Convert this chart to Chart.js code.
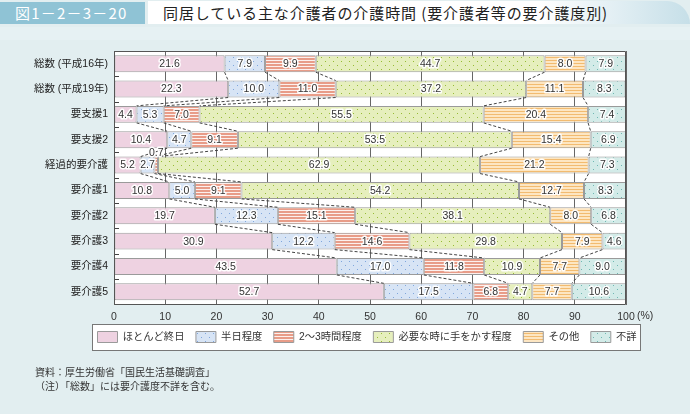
<!DOCTYPE html>
<html><head><meta charset="utf-8">
<script src="https://cdn.jsdelivr.net/npm/chart.js@4.4.1/dist/chart.umd.min.js"></script>
<style>
html,body{margin:0;padding:0;}
body{width:690px;height:414px;background:#e2eef0;position:relative;overflow:hidden;font-family:"Noto Sans CJK JP",sans-serif;}
#hdrBox{position:absolute;left:0;top:2px;width:145px;height:22px;background:#8fc3d5;color:#fff;font-size:15px;line-height:22px;padding-left:15px;box-sizing:border-box;letter-spacing:1.2px;}
#hdrTitle{position:absolute;left:148px;top:1px;width:542px;height:23px;background:linear-gradient(to right,#ffffff 0%,#ffffff 72%,#c6dfe8 100%);border-top-right-radius:24px;font-size:15px;line-height:23px;padding-left:15px;box-sizing:border-box;color:#222;letter-spacing:0.9px;}
#band{position:absolute;left:0;top:27px;width:690px;height:13px;background:#e6f1f3;}
#wrap{position:absolute;left:0;top:0;width:690px;height:414px;}
.note{position:absolute;font-size:10px;color:#333;white-space:nowrap;}
</style></head>
<body>
<div id="hdrBox">図1－2－3－20</div>
<div id="hdrTitle">同居している主な介護者の介護時間 (要介護者等の要介護度別)</div>
<div id="band"></div>
<div id="wrap"><canvas id="c" width="690" height="414"></canvas></div>
<div class="note" style="left:35px;top:364px;">資料：厚生労働省「国民生活基礎調査」</div>
<div class="note" style="left:35px;top:378px;">（注）「総数」には要介護度不詳を含む。</div>
<script>
const categories = ['総数 (平成16年)','総数 (平成19年)','要支援1','要支援2','経過的要介護','要介護1','要介護2','要介護3','要介護4','要介護5'];
const seriesNames = ['ほとんど終日','半日程度','2～3時間程度','必要な時に手をかす程度','その他','不詳'];
const allDay        = [21.6,22.3, 4.4,10.4, 5.2,10.8,19.7,30.9,43.5,52.7];
const halfDay       = [ 7.9,10.0, 5.3, 4.7, 2.7, 5.0,12.3,12.2,17.0,17.5];
const twoThreeHours = [ 9.9,11.0, 7.0, 9.1, 0.7, 9.1,15.1,14.6,11.8, 6.8];
const whenNeeded    = [44.7,37.2,55.5,53.5,62.9,54.2,38.1,29.8,10.9, 4.7];
const other         = [ 8.0,11.1,20.4,15.4,21.2,12.7, 8.0, 7.9, 7.7, 7.7];
const unknown       = [ 7.9, 8.3, 7.4, 6.9, 7.3, 8.3, 6.8, 4.6, 9.0,10.6];
const xTickValues   = [0,10,20,30,40,50,60,70,80,90,100];

const FONT = "'Liberation Sans','Noto Sans CJK JP',sans-serif";
const canvas = document.getElementById('c');
const ctx0 = canvas.getContext('2d');

function dotPattern(bg, dot){
  const c=document.createElement('canvas'); c.width=8; c.height=8;
  const x=c.getContext('2d'); x.fillStyle=bg; x.fillRect(0,0,8,8);
  x.fillStyle=dot; x.fillRect(1,1,1,1); x.fillRect(5,5,1,1);
  return ctx0.createPattern(c,'repeat');
}
function stripePattern(bg, line){
  const c=document.createElement('canvas'); c.width=4; c.height=3;
  const x=c.getContext('2d'); x.fillStyle=bg; x.fillRect(0,0,4,3);
  x.fillStyle=line; x.fillRect(0,0,4,1);
  return ctx0.createPattern(c,'repeat');
}
const fills = [
  '#eed2e1',
  dotPattern('#d7e4f5','#7fa6dc'),
  stripePattern('#e89c88','rgba(255,255,255,0.85)'),
  dotPattern('#e6efbd','#96bb35'),
  stripePattern('#fde6c2','#f2bb70'),
  dotPattern('#d3ebe8','#6fb7b1')
];
const seriesData = [allDay, halfDay, twoThreeHours, whenNeeded, other, unknown];

const LEGEND_BOX = {left:92, top:324, width:548, height:26};

const customPlugin = {
  id:'custom',
  afterLayout(chart){
    const lg = chart.legend;
    lg.left = 86; lg.right = 700; lg.width = 614;
    lg.top = 320; lg.bottom = 352; lg.height = 32;
  },
  beforeDraw(chart){
    const {ctx, chartArea:a} = chart;
    ctx.save();
    ctx.fillStyle='#fff';
    ctx.fillRect(a.left,a.top,a.right-a.left,a.bottom-a.top);
    const b = LEGEND_BOX;
    ctx.fillRect(b.left, b.top, b.width, b.height);
    ctx.strokeStyle='#777'; ctx.lineWidth=1;
    ctx.strokeRect(b.left+0.5, b.top+0.5, b.width, b.height);
    ctx.restore();
  },
  afterDatasetsDraw(chart){
    const {ctx, chartArea:a} = chart;
    const n = categories.length;
    const metas = seriesData.map((d,i)=>chart.getDatasetMeta(i));
    ctx.save();
    ctx.setLineDash([3,2]); ctx.strokeStyle='#444'; ctx.lineWidth=1;
    for(let i=0;i<n-1;i++){
      for(let k=0;k<metas.length-1;k++){
        const e1=metas[k].data[i], e2=metas[k].data[i+1];
        ctx.beginPath();
        ctx.moveTo(e1.x, e1.y+e1.height/2);
        ctx.lineTo(e2.x, e2.y-e2.height/2);
        ctx.stroke();
      }
    }
    ctx.setLineDash([]);
    const ys = chart.scales.y;
    ctx.strokeStyle='#444';
    for(let i=0;i<n-1;i++){
      const y = Math.round((ys.getPixelForValue(i)+ys.getPixelForValue(i+1))/2)+0.5;
      ctx.beginPath(); ctx.moveTo(a.left, y); ctx.lineTo(a.left+5, y); ctx.stroke();
    }
    ctx.font = "10.5px "+FONT;
    ctx.textAlign='center'; ctx.textBaseline='middle';
    ctx.lineJoin='round';
    metas.forEach((m,k)=>{
      m.data.forEach((el,i)=>{
        const v = seriesData[k][i];
        const txt = v.toFixed(1);
        const cx = (el.x+el.base)/2;
        let cy = el.y;
        if (v < 1) cy = el.y - el.height/2 - 4;
        ctx.strokeStyle='rgba(255,255,255,0.95)'; ctx.lineWidth=3;
        ctx.strokeText(txt, cx, cy+0.5);
        ctx.fillStyle='#333';
        ctx.fillText(txt, cx, cy+0.5);
      });
    });
    ctx.strokeStyle='#555'; ctx.lineWidth=1;
    ctx.strokeRect(Math.round(a.left)+0.5, Math.round(a.top)+0.5, Math.round(a.right-a.left)-1, Math.round(a.bottom-a.top)-1);
    ctx.restore();
  },
  afterDraw(chart){
    const {ctx} = chart;
    const xs = chart.scales.x;
    ctx.save();
    ctx.font = "10.5px "+FONT; ctx.fillStyle='#333';
    ctx.textAlign='left'; ctx.textBaseline='middle';
    ctx.fillText('(%)', xs.getPixelForValue(100)+11, xs.top+12);
    ctx.restore();
  }
};

new Chart(canvas, {
  type:'bar',
  data:{
    labels: categories,
    datasets: seriesNames.map((name,k)=>({
      label: name,
      data: seriesData[k],
      backgroundColor: fills[k],
      borderColor: '#9a9a9a',
      borderWidth: 1,
      borderSkipped: false,
      barPercentage: 0.67,
      categoryPercentage: 1
    }))
  },
  options:{
    indexAxis:'y',
    responsive:false,
    animation:false,
    devicePixelRatio:1,
    layout:{padding:{top:51,right:64,left:0,bottom:55}},
    font:{family:FONT},
    scales:{
      x:{
        stacked:true, min:0, max:100,
        afterBuildTicks(s){ s.ticks = xTickValues.map(v=>({value:v})); },
        afterFit(s){ s.height = 22; },
        ticks:{font:{family:FONT,size:10.5}, color:'#333', padding:6, maxRotation:0},
        grid:{color:'#666', lineWidth:1, drawTicks:false},
        border:{display:false}
      },
      y:{
        stacked:true,
        afterFit(s){ s.width = 114; },
        ticks:{font:{family:FONT,size:10.5}, color:'#222', padding:6},
        grid:{display:false, drawTicks:false},
        border:{display:false}
      }
    },
    plugins:{
      legend:{
        position:'bottom',
        align:'start',
        labels:{font:{family:FONT,size:10.3}, color:'#333', boxWidth:20, boxHeight:11, padding:11.5}
      },
      tooltip:{enabled:false}
    }
  },
  plugins:[customPlugin]
});
</script>
</body></html>
